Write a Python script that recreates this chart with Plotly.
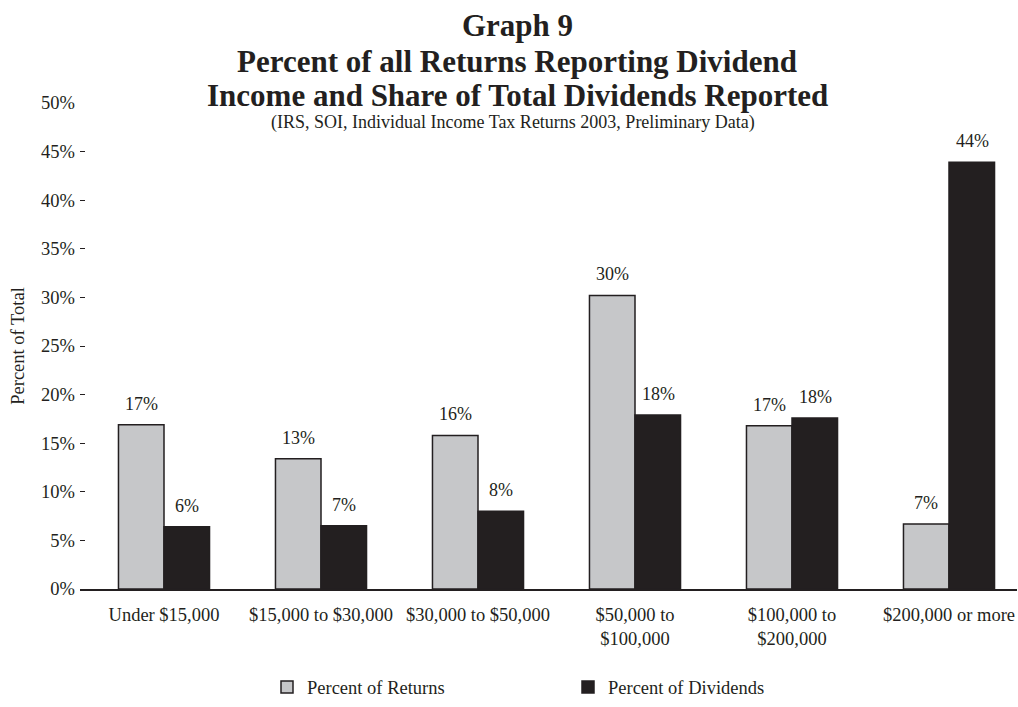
import plotly.graph_objects as go

categories = ["Under $15,000", "$15,000 to $30,000", "$30,000 to $50,000",
              "$50,000 to<br>$100,000", "$100,000 to<br>$200,000", "$200,000 or more"]
pct_returns = [16.9, 13.4, 15.8, 30.2, 16.8, 6.7]
pct_dividends = [6.4, 6.5, 8.0, 17.9, 17.6, 43.9]
returns_labels = ["17%", "13%", "16%", "30%", "17%", "7%"]
dividends_labels = ["6%", "7%", "8%", "18%", "18%", "44%"]
y_ticks = [0, 5, 10, 15, 20, 25, 30, 35, 40, 45, 50]

DARK = "#231f20"
GRAY = "#c6c7c9"
SERIF = "Liberation Serif, Times New Roman, serif"

# plot area in pixels
L, R, T, B = 80, 1017, 103, 597
W, H = 1018, 707

fig = go.Figure()
fig.add_trace(go.Bar(name="Percent of Returns", x=categories, y=pct_returns,
                     marker=dict(color=GRAY, line=dict(color=DARK, width=1.5))))
fig.add_trace(go.Bar(name="Percent of Dividends", x=categories, y=pct_dividends,
                     marker=dict(color=DARK, line=dict(color=DARK, width=1.5))))

anns = []
for c, v, t in zip(categories, pct_returns, returns_labels):
    anns.append(dict(x=c, y=v, text=t, xref="x", yref="y", showarrow=False,
                     xshift=-23, yshift=9, yanchor="bottom",
                     font=dict(family=SERIF, size=18, color=DARK)))
for c, v, t in zip(categories, pct_dividends, dividends_labels):
    anns.append(dict(x=c, y=v, text=t, xref="x", yref="y", showarrow=False,
                     xshift=23, yshift=9, yanchor="bottom",
                     font=dict(family=SERIF, size=18, color=DARK)))


def px_y(p):
    return (B - p) / float(B - T)


def px_x(p):
    return (p - L) / float(R - L)


title_lines = ["Graph 9", "Percent of all Returns Reporting Dividend",
               "Income and Share of Total Dividends Reported"]
title_y = [24, 61, 95]
for t, yy in zip(title_lines, title_y):
    anns.append(dict(x=px_x(517), y=px_y(yy), xref="paper", yref="paper", text="<b>" + t + "</b>",
                     showarrow=False, xanchor="center", yanchor="middle",
                     font=dict(family=SERIF, size=31, color=DARK)))
anns.append(dict(x=px_x(513), y=px_y(123), xref="paper", yref="paper",
                 text="(IRS, SOI, Individual Income Tax Returns 2003, Preliminary Data)",
                 showarrow=False, xanchor="center", yanchor="middle",
                 font=dict(family=SERIF, size=18, color=DARK)))

spacing = 157.0
first_center = 164.0
x0 = -(first_center - L) / spacing
x1 = x0 + (R - L) / spacing

fig.update_layout(
    width=W, height=H,
    margin=dict(l=L, r=W - R, t=T, b=H - B),
    paper_bgcolor="white", plot_bgcolor="white",
    barmode="group", bargap=0.42, bargroupgap=0,
    font=dict(family=SERIF, size=18, color=DARK),
    annotations=anns,
    showlegend=True,
    legend=dict(orientation="h", x=px_x(267), y=px_y(697), xanchor="left", yanchor="middle",
                font=dict(family=SERIF, size=18.5, color=DARK),
                bgcolor="rgba(0,0,0,0)",
                entrywidth=256, entrywidthmode="pixels",
                itemclick=False, itemdoubleclick=False),
    xaxis=dict(range=[x0, x1], showline=True, linecolor=DARK, linewidth=1.5,
               ticks="outside", ticklen=8, tickcolor="rgba(0,0,0,0)",
               tickfont=dict(family=SERIF, size=18.5, color=DARK), showgrid=False,
               fixedrange=True),
    yaxis=dict(range=[0, 50], tickvals=y_ticks, ticktext=[f"{v}%" for v in y_ticks],
               showline=False, showgrid=False, zeroline=False,
               ticks="inside", ticklen=5, tickcolor=DARK, tickwidth=1.2,
               ticklabelstandoff=4,
               tickfont=dict(family=SERIF, size=18.5, color=DARK),
               title=dict(text="Percent of Total", font=dict(family=SERIF, size=18.5, color=DARK),
                          standoff=11),
               fixedrange=True),
)

fig.write_html("out.html")
